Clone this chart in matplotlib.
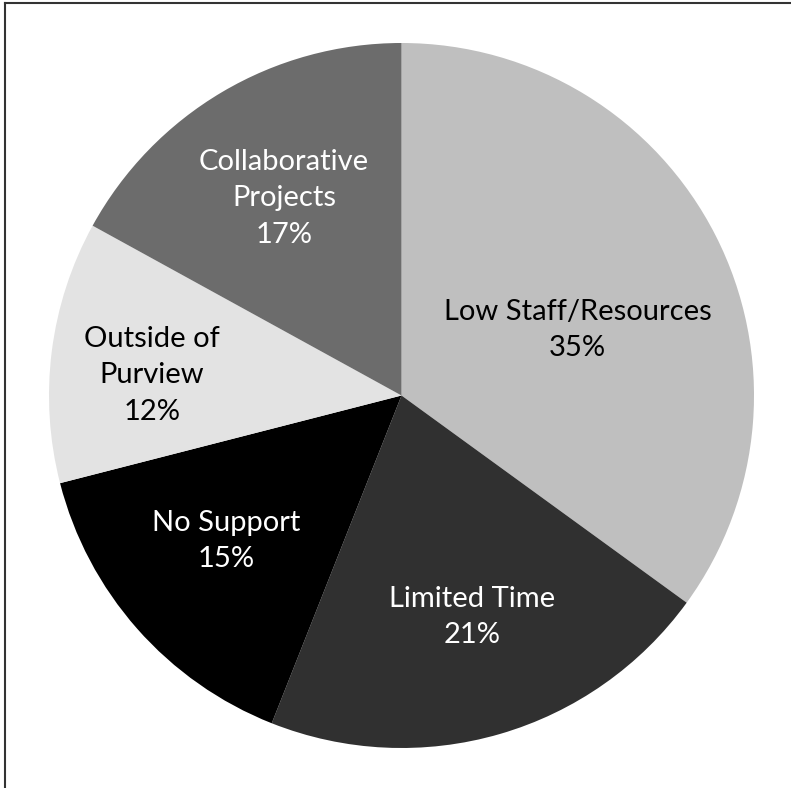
import matplotlib.pyplot as plt
from matplotlib.lines import Line2D

# reasons given, clockwise from 12 o'clock
categories = [
    "Low Staff/Resources",
    "Limited Time",
    "No Support",
    "Outside of\nPurview",
    "Collaborative\nProjects",
]
shares = [35, 21, 15, 12, 17]

colors = ["#bfbfbf", "#303030", "#000000", "#e3e3e3", "#6c6c6c"]
text_colors = ["black", "white", "white", "black", "white"]
# label centres, in pie radius units
label_xy = [(0.50, 0.186), (0.20, -0.628), (-0.498, -0.413), (-0.708, 0.058), (-0.333, 0.560)]

W, H = 791, 788
fig = plt.figure(figsize=(W / 100, H / 100), dpi=100)
cx, cy, r = 401.5, 395.5, 352.5
ax = fig.add_axes([(cx - r) / W, (H - cy - r) / H, 2 * r / W, 2 * r / H])

ax.pie(
    shares,
    colors=colors,
    startangle=90,
    counterclock=False,
    radius=1,
    wedgeprops=dict(linewidth=0),
)
ax.set_xlim(-1, 1)
ax.set_ylim(-1, 1)
ax.set_aspect("equal")
ax.axis("off")

for name, share, (x, y), tc in zip(categories, shares, label_xy, text_colors):
    ax.text(
        x,
        y,
        f"{name}\n{share}%",
        ha="center",
        va="center",
        color=tc,
        fontsize=21,
        family="Lato",
        linespacing=1.5,
    )

# frame edges visible in the original crop
fig.add_artist(Line2D([4.5 / W, 1], [1 - 3 / H, 1 - 3 / H], color="#333333", lw=1.5))
fig.add_artist(Line2D([4.5 / W, 4.5 / W], [0, 1 - 3 / H], color="#333333", lw=1.5))

fig.savefig("out.png", dpi=100)
